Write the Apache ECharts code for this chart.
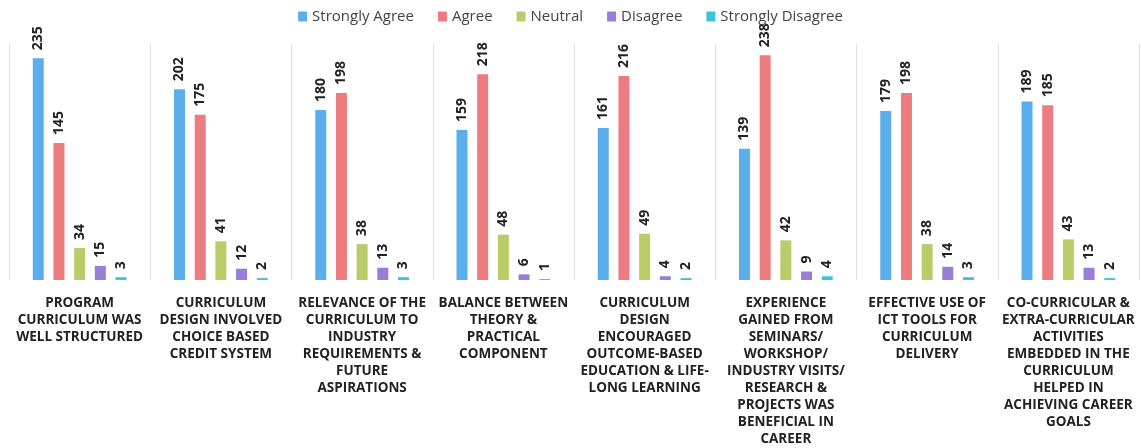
<!DOCTYPE html>
<html><head><meta charset="utf-8">
<script src="https://cdn.jsdelivr.net/npm/echarts@6/dist/echarts.min.js"></script>
<style>html,body{margin:0;padding:0;background:#fff}#c{width:1141px;height:448px}</style>
</head><body><div id="c"></div>
<script>
const categories = [
  'PROGRAM\nCURRICULUM WAS\nWELL STRUCTURED',
  'CURRICULUM\nDESIGN INVOLVED\nCHOICE BASED\nCREDIT SYSTEM',
  'RELEVANCE OF THE\nCURRICULUM TO\nINDUSTRY\nREQUIREMENTS &\nFUTURE\nASPIRATIONS',
  'BALANCE BETWEEN\nTHEORY &\nPRACTICAL\nCOMPONENT',
  'CURRICULUM\nDESIGN\nENCOURAGED\nOUTCOME-BASED\nEDUCATION & LIFE-\nLONG LEARNING',
  'EXPERIENCE\nGAINED FROM\nSEMINARS/\nWORKSHOP/\nINDUSTRY VISITS/\nRESEARCH &\nPROJECTS WAS\nBENEFICIAL IN\nCAREER',
  'EFFECTIVE USE OF\nICT TOOLS FOR\nCURRICULUM\nDELIVERY',
  'CO-CURRICULAR &\nEXTRA-CURRICULAR\nACTIVITIES\nEMBEDDED IN THE\nCURRICULUM\nHELPED IN\nACHIEVING CAREER\nGOALS'
];
const seriesNames = ['Strongly Agree', 'Agree', 'Neutral', 'Disagree', 'Strongly Disagree'];
const stronglyAgree    = [235, 202, 180, 159, 161, 139, 179, 189];
const agree            = [145, 175, 198, 218, 216, 238, 198, 185];
const neutral          = [34, 41, 38, 48, 49, 42, 38, 43];
const disagree         = [15, 12, 13, 6, 4, 9, 14, 13];
const stronglyDisagree = [3, 2, 3, 1, 2, 4, 3, 2];
const colors = ['#5aaeec', '#ec7c80', '#b8cc68', '#9a7dd6', '#3ec4d6'];
const allData = [stronglyAgree, agree, neutral, disagree, stronglyDisagree];

const chart = echarts.init(document.getElementById('c'));
chart.setOption({
  animation: false,
  color: colors,
  legend: {
    top: 4, left: 'center',
    itemWidth: 9, itemHeight: 10, itemGap: 24,
    icon: 'rect',
    textStyle: { fontFamily: 'Open Sans', fontSize: 15, color: '#444' },
    data: seriesNames
  },
  grid: { left: 9, right: 2, top: 44, bottom: 165 },
  xAxis: {
    type: 'category', data: categories,
    axisLine: { show: false }, axisTick: { show: false },
    splitLine: { show: true, lineStyle: { color: '#e0e0e0', width: 1 } },
    axisLabel: {
      interval: 0, margin: 15,
      fontFamily: 'Open Sans', fontWeight: 'bold', fontSize: 13.5,
      lineHeight: 17, color: '#222', align: 'center'
    }
  },
  yAxis: { type: 'value', min: 0, max: 250, show: false, splitLine: { show: false } },
  series: seriesNames.map((n, i) => ({
    name: n, type: 'bar', data: allData[i],
    barWidth: 11, barGap: '88%',
    itemStyle: { color: colors[i] },
    label: {
      show: true, position: 'top', rotate: 90, distance: 8,
      align: 'left', verticalAlign: 'middle',
      fontFamily: 'Open Sans', fontWeight: 'bold', fontSize: 14, color: '#222'
    }
  }))
});
</script></body></html>
